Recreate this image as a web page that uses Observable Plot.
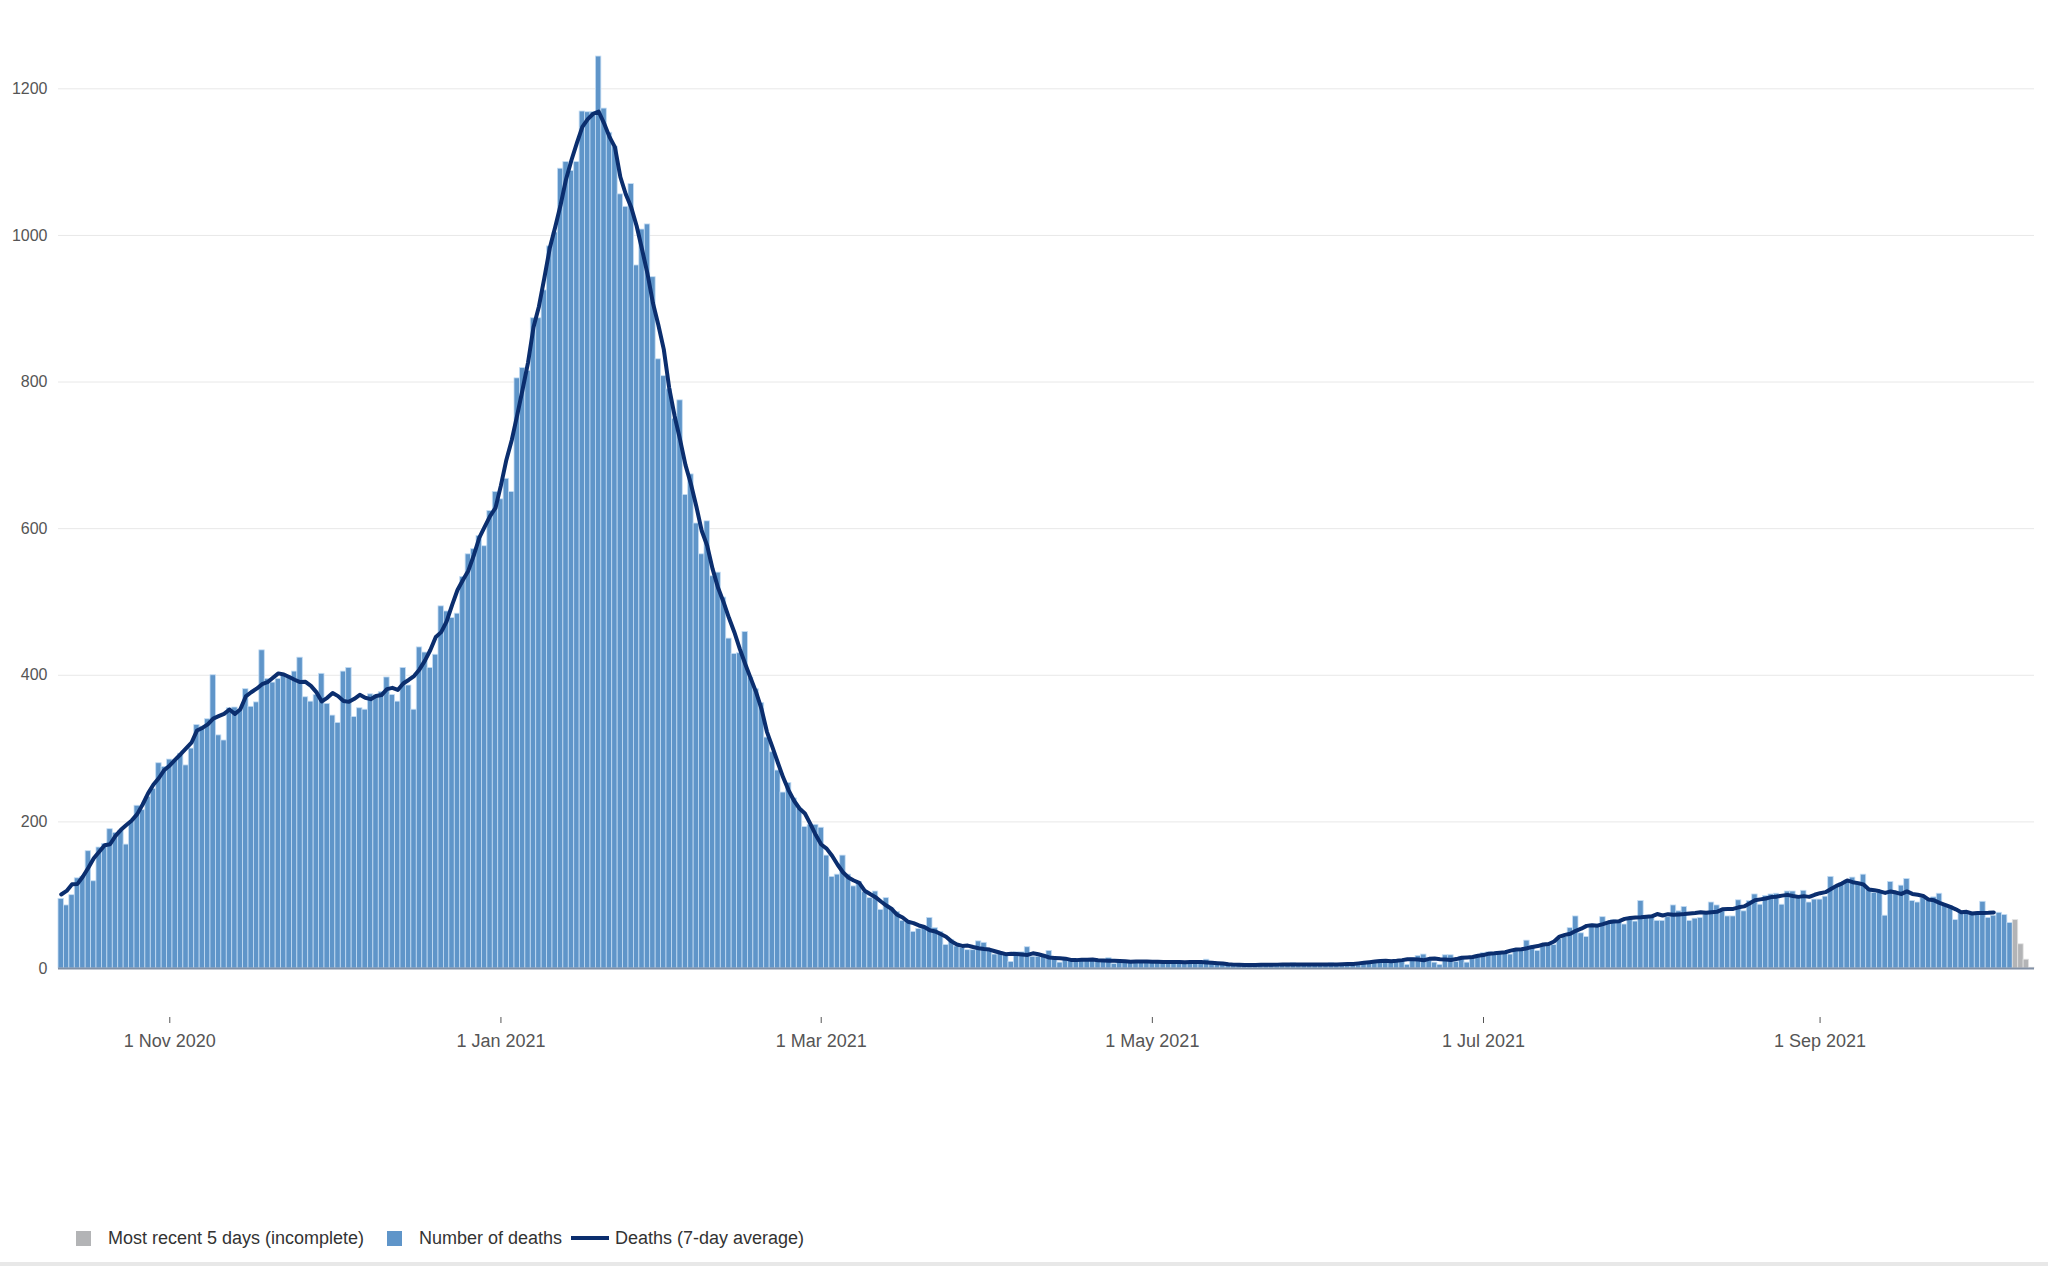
<!DOCTYPE html>
<html>
<head>
<meta charset="utf-8">
<script src="https://cdn.jsdelivr.net/npm/d3@7"></script>
<script src="https://cdn.jsdelivr.net/npm/@observablehq/plot@0.6"></script>
<style>
  html, body { margin: 0; padding: 0; background: #fff; }
  body { width: 2048px; height: 1266px; position: relative; overflow: hidden;
         font-family: "Liberation Sans", Arial, Helvetica, sans-serif; }
  #chart { position: absolute; left: 0; top: 0; }
  .legend { position: absolute; left: 0; top: 1226px; width: 2048px; height: 24px;
            font-size: 18px; color: #333; }
  .legend .item { position: absolute; top: 0; height: 24px; display: flex; align-items: center; white-space: nowrap; }
  .legend .sw { width: 15px; height: 15px; margin-right: 17px; }
  .legend .ln { width: 38px; height: 4px; margin-right: 6px; }
  .bottomline { position: absolute; left: 0; top: 1262px; width: 2048px; height: 4px; background: #e8e8e8; }
</style>
</head>
<body>
<div id="chart"></div>
<div class="legend" id="legend"></div>
<div class="bottomline"></div>
<script>
// ---- data ----
const startDate = "2020-10-12"; // first bar
const deaths = [
  95, 86, 100, 123, 125, 160, 119, 165, 170, 190,
  185, 188, 169, 200, 222, 216, 234, 245, 280, 275,
  285, 284, 293, 277, 300, 332, 330, 340, 400, 318,
  311, 355, 356, 352, 381, 357, 363, 434, 395, 390,
  395, 400, 399, 405, 424, 370, 364, 373, 402, 361,
  345, 335, 405, 410, 343, 355, 353, 374, 373, 377,
  397, 373, 364, 410, 386, 353, 438, 431, 410, 428,
  494, 487, 478, 484, 534, 565, 572, 590, 576, 624,
  650, 640, 668, 650, 805, 819, 815, 887, 887, 925,
  985, 1004, 1091, 1100, 1088, 1100, 1169, 1168, 1168, 1244,
  1173, 1140, 1121, 1056, 1039, 1070, 959, 1008, 1015, 943,
  831, 808, 790, 750, 775, 646, 674, 607, 565, 610,
  535, 540, 506, 450, 429, 430, 459, 397, 381, 362,
  315, 295, 270, 240, 253, 232, 218, 193, 196, 196,
  192, 154, 125, 128, 154, 128, 112, 118, 104, 96,
  105, 80, 96, 82, 77, 65, 63, 50, 54, 55,
  69, 55, 50, 32, 39, 30, 28, 25, 25, 37,
  35, 25, 19, 20, 20, 9, 22, 22, 29, 16,
  16, 16, 24, 13, 8, 12, 12, 13, 12, 12,
  11, 11, 12, 14, 6, 10, 10, 10, 9, 10,
  9, 9, 9, 10, 9, 9, 8, 9, 8, 9,
  8, 12, 8, 7, 6, 5, 5, 4, 5, 5,
  5, 4, 5, 5, 6, 5, 5, 7, 5, 5,
  6, 5, 5, 6, 7, 5, 5, 6, 5, 6,
  8, 9, 10, 11, 11, 11, 11, 11, 5, 14,
  17, 19, 11, 8, 5, 18, 18, 9, 16, 8,
  16, 18, 21, 22, 21, 22, 22, 19, 24, 25,
  38, 31, 24, 32, 32, 32, 40, 43, 55, 71,
  48, 43, 60, 60, 70, 62, 66, 63, 60, 67,
  64, 92, 71, 71, 65, 65, 70, 86, 78, 84,
  65, 68, 69, 76, 90, 86, 78, 71, 71, 93,
  78, 92, 101, 87, 99, 101, 102, 87, 105, 105,
  97, 106, 90, 94, 94, 98, 125, 112, 116, 120,
  124, 116, 128, 108, 103, 103, 72, 118, 105, 113,
  122, 92, 90, 96, 94, 97, 102, 87, 85, 66,
  76, 75, 74, 74, 91, 69, 72, 76, 73, 62
];
const incomplete = [66, 33, 12, 1];          // most recent days (grey)
const averageShownDays = 357;                // the 7-day average stops 3 days before the last complete day
const yTicks = [0, 200, 400, 600, 800, 1000, 1200];
const xTicks = ["2020-11-01", "2021-01-01", "2021-03-01", "2021-05-01", "2021-07-01", "2021-09-01"];
const legendItems = [
  {label: "Most recent 5 days (incomplete)", kind: "box", color: "#b3b4b6", left: 76},
  {label: "Number of deaths", kind: "box", color: "#5f95c9", left: 387},
  {label: "Deaths (7-day average)", kind: "line", color: "#0b2e6e", left: 571}
];

// ---- build tables ----
const start = new Date(startDate + "T00:00:00Z");
const dayAt = i => d3.utcDay.offset(start, i);
const complete = deaths.map((v, i) => ({date: dayAt(i), value: v}));
const recent = incomplete.map((v, i) => ({date: dayAt(deaths.length + i), value: v}));
const averaged = complete.slice(0, averageShownDays);
const half = d => d3.utcHour.offset(d.date, -12);
const halfEnd = d => d3.utcHour.offset(d.date, 12);
const xDomain = [d3.utcHour.offset(start, -12), d3.utcHour.offset(dayAt(deaths.length + incomplete.length - 1), 12)];

const chart = Plot.plot({
  width: 2048,
  height: 1100,
  marginLeft: 58,
  marginRight: 14,
  marginTop: 15,
  marginBottom: 83,
  style: {fontFamily: "'Liberation Sans', Arial, Helvetica, sans-serif", color: "#555", background: "#fff"},
  x: {type: "utc", domain: xDomain, label: null},
  y: {domain: [0, 1300], range: [968, 15], label: null},
  marks: [
    Plot.gridY({ticks: yTicks.filter(t => t > 0), stroke: "#e8e8e8", strokeOpacity: 1, strokeWidth: 1}),
    Plot.rectY(complete, {x1: half, x2: halfEnd, y1: 0, y2: "value", fill: "#5f95c9", stroke: "#c4ddf4", strokeWidth: 0.8}),
    Plot.rectY(recent, {x1: half, x2: halfEnd, y1: 0, y2: "value", fill: "#b3b4b6", stroke: "#e2e2e2", strokeWidth: 0.8}),
    Plot.ruleY([0], {stroke: "#8190a5", strokeWidth: 2}),
    Plot.lineY(averaged, Plot.windowY({k: 7, anchor: "middle", strict: false}, {x: "date", y: "value", stroke: "#0b2e6e", strokeWidth: 4, strokeLinejoin: "round"})),
    Plot.axisY({ticks: yTicks, tickSize: 0, tickPadding: 11, fontSize: 16, fill: "#555", label: null, tickFormat: d3.format("d")}),
    Plot.axisX({ticks: xTicks.map(s => new Date(s + "T00:00:00Z")), tickSize: 6, tickPadding: 11, fontSize: 18, label: null,
                tickFormat: d3.utcFormat("%-d %b %Y"), stroke: "#555", fill: "#555"})
  ]
});
document.getElementById("chart").appendChild(chart);

// ---- legend (HTML, below the SVG) ----
const legend = document.getElementById("legend");
for (const it of legendItems) {
  const item = document.createElement("div");
  item.className = "item";
  item.style.left = it.left + "px";
  const sw = document.createElement("span");
  sw.className = it.kind === "box" ? "sw" : "ln";
  sw.style.background = it.color;
  const tx = document.createElement("span");
  tx.textContent = it.label;
  item.appendChild(sw);
  item.appendChild(tx);
  legend.appendChild(item);
}
</script>
</body>
</html>
